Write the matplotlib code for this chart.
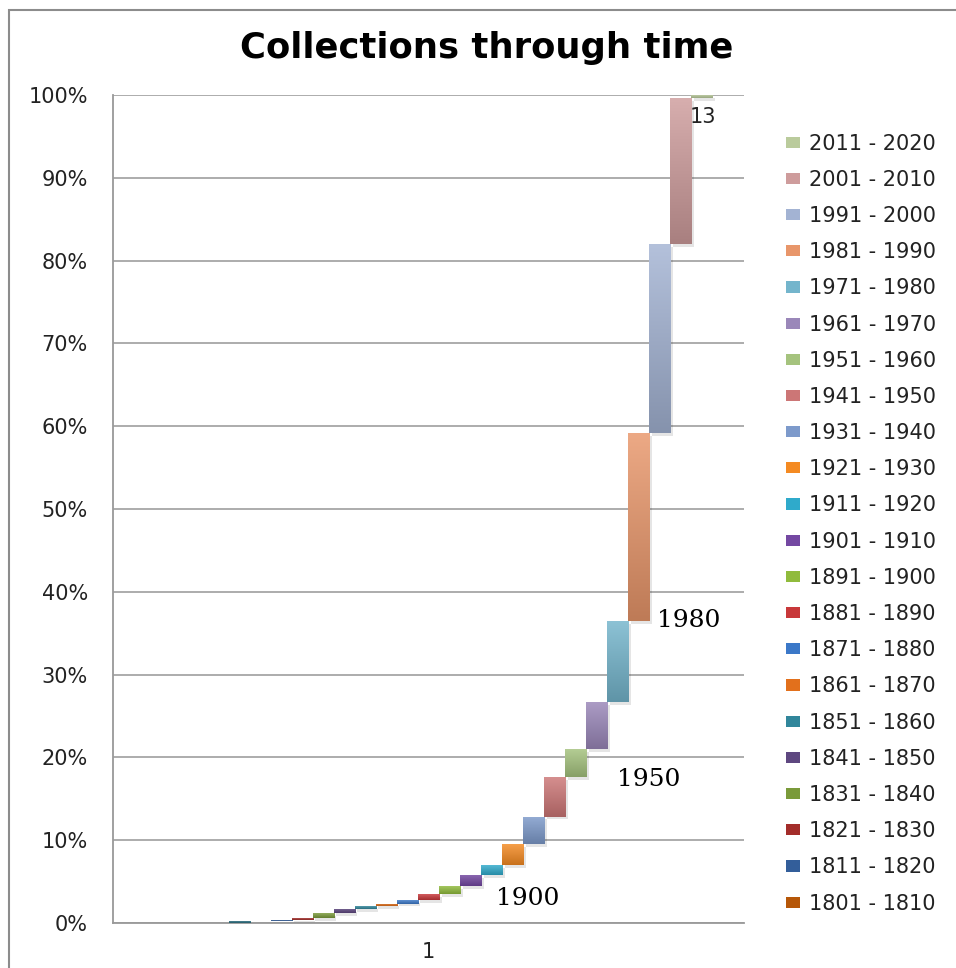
import numpy as np
import matplotlib.pyplot as plt
from matplotlib.colors import to_rgb
from matplotlib.patches import Patch, Rectangle
from matplotlib.ticker import PercentFormatter, MultipleLocator

# decades (first five have no visible legend entry in the original)
decades = ['1751 - 1760', '1761 - 1770', '1771 - 1780', '1781 - 1790', '1791 - 1800',
           '1801 - 1810', '1811 - 1820', '1821 - 1830', '1831 - 1840', '1841 - 1850',
           '1851 - 1860', '1861 - 1870', '1871 - 1880', '1881 - 1890', '1891 - 1900',
           '1901 - 1910', '1911 - 1920', '1921 - 1930', '1931 - 1940', '1941 - 1950',
           '1951 - 1960', '1961 - 1970', '1971 - 1980', '1981 - 1990', '1991 - 2000',
           '2001 - 2010', '2011 - 2020']
# cumulative share of collections (%) at the end of each decade
cum_pct = [0, 0, 0, 0, 0.24,
           0.24, 0.36, 0.6, 1.2, 1.7,
           2.05, 2.35, 2.8, 3.5, 4.45,
           5.8, 7.0, 9.5, 12.85, 17.6,
           21.0, 26.7, 36.5, 59.2, 82.0,
           99.6, 100.0]
colors = ['#2C4D75', '#772C2A', '#5F7530', '#4D3B62', '#276A7C',
          '#B65708', '#335E9A', '#A32D2A', '#7A9A3A', '#5E4780',
          '#31869B', '#E2701C', '#3B78C8', '#C8383A', '#90BB3C',
          '#7448A2', '#2FAACB', '#F48A22', '#7D9ACB', '#CC7676',
          '#A5C37E', '#9A87B9', '#74B5CC', '#E8966A', '#A3B3D3',
          '#CE9C9C', '#BACB9C']
legend_from = '1801 - 1810'
notes = ['1900', '1950', '1980', '13']

bottoms = [0] + cum_pct[:-1]
heights = [t - b for t, b in zip(cum_pct, bottoms)]
xs = np.arange(len(decades))

fig = plt.figure(figsize=(9.56, 9.68), dpi=100)
ax = fig.add_axes([0.1182, 0.0465, 0.66, 0.8554])

# soft drop shadow like the excel 2007 style
ax.bar(xs + 0.12, heights, bottom=[b - 0.35 for b in bottoms], width=1.0,
       color='#000000', alpha=0.10, linewidth=0, zorder=2)
bars = ax.bar(xs, heights, bottom=bottoms, width=1.0, color=colors, linewidth=0, zorder=3)

# vertical gradient on each bar
for rect, c in zip(bars, colors):
    if rect.get_height() <= 0:
        continue
    base = np.array(to_rgb(c))
    top = base + (1 - base) * 0.18
    bot = base * 0.82
    t = np.linspace(0, 1, 64)[:, None]
    grad = (top[None, :] * (1 - t) + bot[None, :] * t)[:, None, :]
    x0 = rect.get_x()
    y0 = rect.get_y()
    im = ax.imshow(grad, extent=[x0, x0 + rect.get_width(), y0, y0 + rect.get_height()],
                   aspect='auto', zorder=4, interpolation='bilinear')
    im.set_clip_path(rect)

ax.set_xlim(-2, 28)
ax.set_ylim(0, 100)
ax.yaxis.set_major_locator(MultipleLocator(10))
ax.yaxis.set_major_formatter(PercentFormatter(100, decimals=0))
ax.set_xticks([13])
ax.set_xticklabels(['1'])
ax.grid(axis='y', color='#A6A6A6', linewidth=1.3, zorder=0)
for s in ['top', 'right']:
    ax.spines[s].set_visible(False)
ax.spines['left'].set_color('#999999')
ax.spines['bottom'].set_color('#999999')
ax.spines['left'].set_linewidth(1.3)
ax.spines['bottom'].set_linewidth(1.3)
ax.tick_params(axis='both', length=0, labelsize=15, labelcolor='#222222')
ax.tick_params(axis='y', pad=18)
ax.tick_params(axis='x', pad=14)

# hand placed notes
ax.text(17.7, 3.0, notes[0], fontsize=18, family='DejaVu Serif', ha='center', va='center', zorder=5)
ax.text(23.45, 17.3, notes[1], fontsize=18, family='DejaVu Serif', ha='center', va='center', zorder=5)
ax.text(25.35, 36.5, notes[2], fontsize=18, family='DejaVu Serif', ha='center', va='center', zorder=5)
ax.text(26.05, 97.3, notes[3], fontsize=15, ha='center', va='center', color='#222222', zorder=5)

fig.text(0.509, 0.950, 'Collections through time', fontsize=25.5, fontweight='bold',
         ha='center', va='center')

# legend: newest first, stops at 1801 - 1810
k = decades.index(legend_from)
handles = [Patch(facecolor=colors[i], edgecolor='none', label=decades[i])
           for i in range(len(decades) - 1, k - 1, -1)]
fig.legend(handles=handles, loc='upper left', bbox_to_anchor=(0.822, 0.862),
           frameon=False, fontsize=15, handlelength=0.7, handleheight=0.45,
           handletextpad=0.4, labelspacing=0.777, borderpad=0, borderaxespad=0,
           labelcolor='#222222')

# chart frame (cut off on the right and bottom in the original)
fig.patches.append(Rectangle((0.0094, -0.1), 1.2, 1.0897, transform=fig.transFigure,
                             fill=False, edgecolor='#8C8C8C', linewidth=1.5))

fig.savefig('out.png', dpi=100)
